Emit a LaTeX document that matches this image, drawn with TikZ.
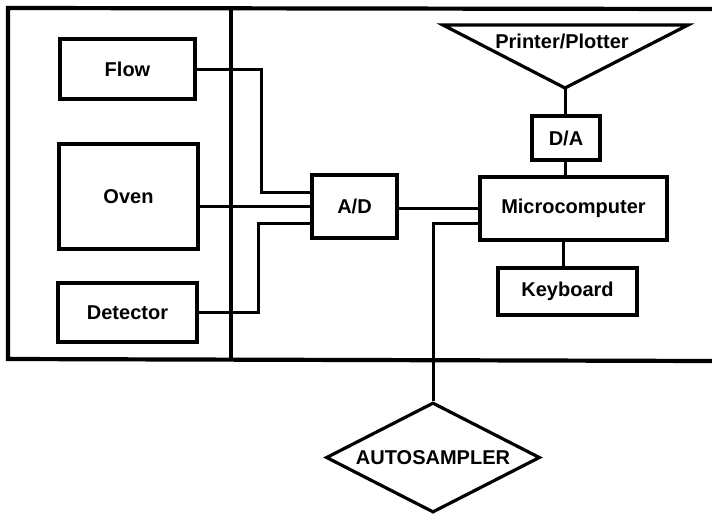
\documentclass[tikz,border=0pt]{standalone}
\usepackage{fontspec}
\setmainfont{Liberation Sans}
\usetikzlibrary{shapes.geometric,calc}
\begin{document}
\begin{tikzpicture}[x=1pt,y=-1pt,
  box/.style={draw,line width=3.2pt,inner sep=0pt,font=\fontsize{20}{23}\selectfont\bfseries},
  wire/.style={line width=3pt},
  frame/.style={line width=4.2pt},
  lbl/.style={inner sep=0pt,font=\fontsize{20}{23}\selectfont\bfseries}]
\useasboundingbox (0,0) rectangle (712,515);
% frame
\draw[frame] (712,9) -- (8,8) -- (8,359) -- (712,361);
\draw[frame] (231,8) -- (231,360);
% boxes
\node[box,minimum width=135pt,minimum height=60pt] (flow) at (127.5,69) {Flow};
\node[box,minimum width=139pt,minimum height=105pt] (oven) at (128.5,196.5) {Oven};
\node[box,minimum width=139pt,minimum height=59pt] (det) at (127.5,312.5) {Detector};
\node[box,minimum width=85pt,minimum height=63pt] (ad) at (354.5,206.5) {A/D};
\node[box,minimum width=187pt,minimum height=63pt] (micro) at (573.5,208.5) {Microcomputer};
\node[box,minimum width=68pt,minimum height=44pt] (da) at (566,138) {D/A};
\node[box,minimum width=139pt,minimum height=47pt] (kb) at (567.5,291.5) {Keyboard};
\node[box,diamond,aspect=1.95,minimum width=214pt,minimum height=110pt] (auto) at (433,457.5) {AUTOSAMPLER};
% printer/plotter triangle
\coordinate (ptl) at (443,25);
\coordinate (ptr) at (688,25);
\coordinate (pap) at (565,88);
\draw[line width=3.2pt,line join=miter] (ptl) -- (ptr) -- (pap) -- cycle;
\node[lbl] (pp) at (562,41) {Printer/Plotter};
% connectors
\draw[wire] (flow.east) -| ([xshift=-49pt,yshift=14.5pt]ad.west) -- ([yshift=14.5pt]ad.west);
\draw[wire] (oven.east |- ad.west) -- (ad.west);
\draw[wire] (det.east) -| ([xshift=-52pt,yshift=-16.5pt]ad.west) -- ([yshift=-16.5pt]ad.west);
\draw[wire] ([yshift=-1.5pt]ad.east) -- ([yshift=-1.5pt]ad.east -| micro.west);
\draw[wire] ([yshift=-14.5pt]micro.west) -| (auto.north);
\draw[wire] (pap) -- (da.north -| pap);
\draw[wire] ([xshift=-1pt]da.south) -- ([xshift=-1pt]da.south |- micro.north);
\draw[wire] ([xshift=-4pt]kb.north) -- ([xshift=-4pt]kb.north |- micro.south);
\end{tikzpicture}
\end{document}
